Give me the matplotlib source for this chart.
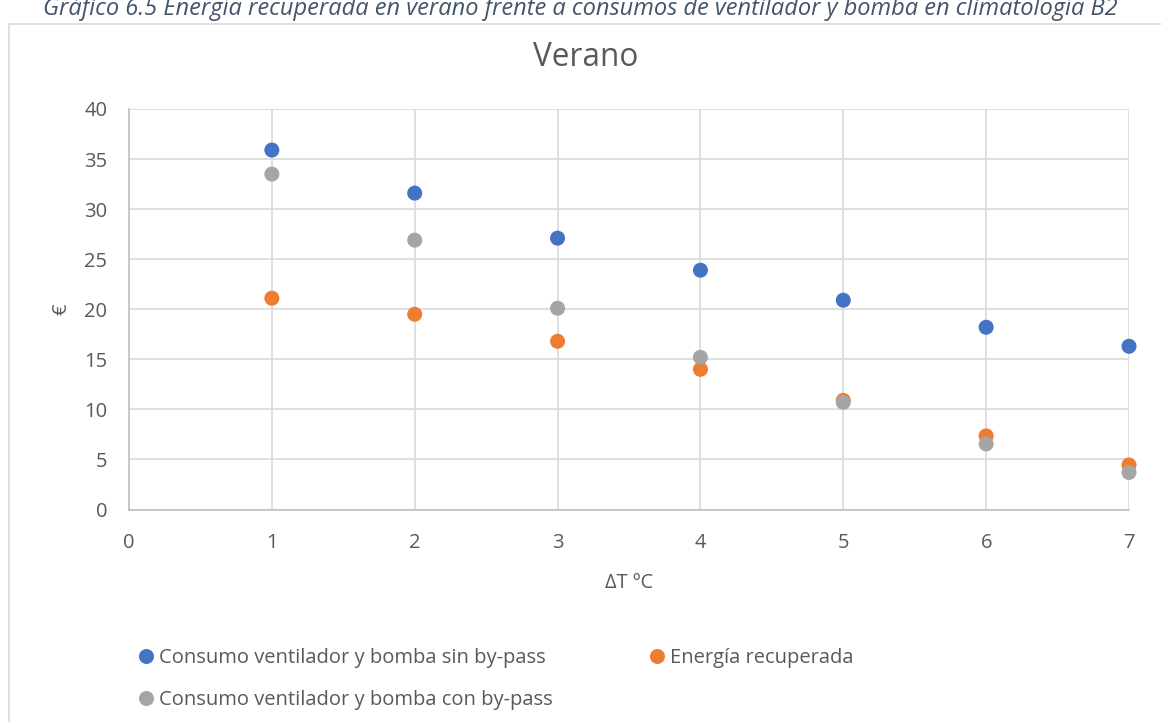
import numpy as np
import matplotlib
matplotlib.use("Agg")
import matplotlib.pyplot as plt
from matplotlib.lines import Line2D
from matplotlib.patches import Rectangle

plt.rcParams["font.family"] = ["Open Sans", "DejaVu Sans"]

delta_t = [1, 2, 3, 4, 5, 6, 7]
sin_bypass = [35.9, 31.6, 27.1, 23.9, 20.9, 18.2, 16.3]
energia_recuperada = [21.1, 19.5, 16.8, 14.0, 10.9, 7.35, 4.45]
con_bypass = [33.5, 26.9, 20.1, 15.2, 10.7, 6.55, 3.7]

series = [
    ("Consumo ventilador y bomba sin by-pass", sin_bypass, "#4472C4"),
    ("Energía recuperada", energia_recuperada, "#ED7D31"),
    ("Consumo ventilador y bomba con by-pass", con_bypass, "#A5A5A5"),
]

text_col = "#595959"
grid_col = "#D9D9D9"
fs = 14.5

W, H = 1161, 722
fig = plt.figure(figsize=(W / 100, H / 100), dpi=100)
ax = fig.add_axes([129 / W, 1 - 509.5 / H, 1000 / W, 400.5 / H])

for name, vals, col in series:
    ax.scatter(delta_t, vals, s=117, color=col, edgecolors="none", zorder=3,
               label=name, clip_on=False)

ax.set_xlim(0, 7)
ax.set_ylim(0, 40)
ax.set_xticks(range(0, 8))
ax.set_yticks(range(0, 41, 5))
ax.grid(True, color=grid_col, linewidth=1.2, zorder=0)
for side in ["top", "right"]:
    ax.spines[side].set_visible(False)
for side in ["left", "bottom"]:
    ax.spines[side].set_color("#BFBFBF")
    ax.spines[side].set_linewidth(1.2)
ax.tick_params(length=0, labelsize=fs, colors=text_col)
ax.tick_params(axis="x", pad=17)
ax.tick_params(axis="y", pad=15.5)
ax.set_xlabel("ΔT ºC", fontsize=fs, color=text_col, labelpad=14)
ax.set_ylabel("€", fontsize=fs, color=text_col, labelpad=9)

fig.text(586 / W, 1 - 57 / H, "Verano", ha="center", va="center",
         fontsize=22.7, color=text_col)

# caption above the chart frame (partly cut at the top edge)
fig.text(0.5, 1 - 9 / H,
         "Gráfico 6.5 Energía recuperada en verano frente a consumos de ventilador y bomba en climatología B2",
         ha="center", va="center", fontsize=17, style="italic", color="#44546A")

# chart frame
fig.patches.append(Rectangle((9 / W, -0.01), 1.0, 1 - 24 / H + 0.01,
                             transform=fig.transFigure, fill=False,
                             edgecolor="#D9D9D9", linewidth=1.2))

handles = [Line2D([], [], marker="o", linestyle="none", markersize=10.8,
                  markerfacecolor=c, markeredgecolor="none") for _, _, c in series]
labels = [n for n, _, _ in series]
order = [0, 2, 1]
fig.legend([handles[i] for i in order], [labels[i] for i in order],
           ncol=2, loc="upper left", bbox_to_anchor=(128 / W, 1 - 638 / H),
           frameon=False, fontsize=fs, labelcolor=text_col, borderpad=0,
           handlelength=0.8, handletextpad=0.25, columnspacing=4.75,
           labelspacing=1.1)

fig.savefig("out.png", dpi=100)
